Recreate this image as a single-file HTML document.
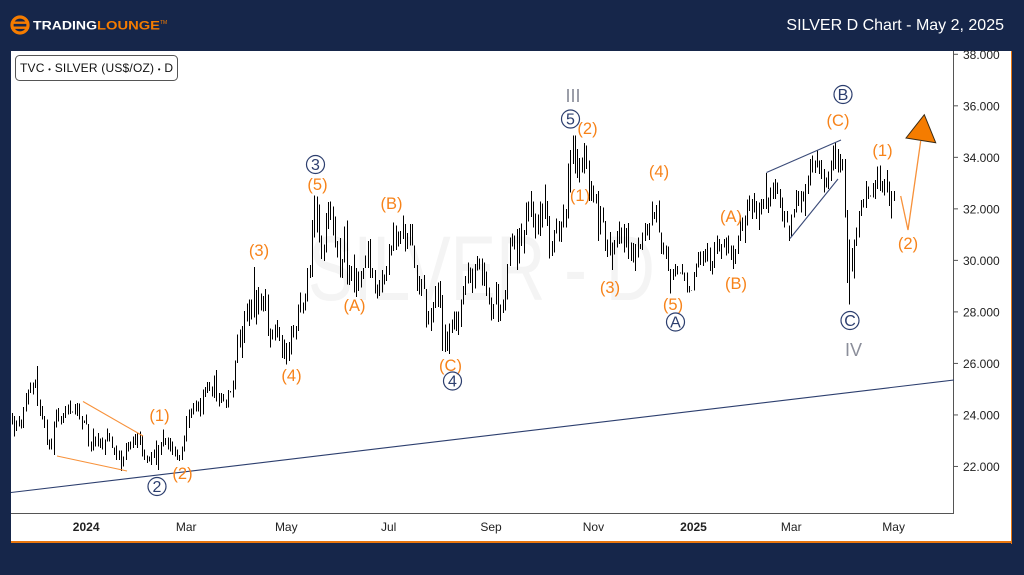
<!DOCTYPE html>
<html lang="en">
<head>
<meta charset="utf-8">
<title>SILVER D Chart - May 2, 2025</title>
<style>
html,body{margin:0;padding:0;width:1024px;height:575px;overflow:hidden;background:#16264a}
svg{display:block}
text{font-family:"Liberation Sans",sans-serif}
.w{fill:#f7831a;font-size:16.5px;text-anchor:middle}
.c{fill:#2c3e6e;font-size:16px;text-anchor:middle}
.r{fill:none;stroke:#2c3e6e;stroke-width:1.2}
.n{fill:#8b8e9a;font-size:18px;text-anchor:middle}
.ax{fill:#222;font-size:12px}
</style>
</head>
<body>
<svg id="chart" width="1024" height="575" viewBox="0 0 1024 575" xmlns="http://www.w3.org/2000/svg">
<rect x="0" y="0" width="1024" height="575" fill="#16264a"/>
<rect x="11" y="51" width="1001" height="491" fill="#ffffff"/>
<rect x="1011" y="51" width="1" height="493" fill="#e8760f"/>
<rect x="11" y="541" width="1001" height="2" fill="#e8760f"/>

<g>
<circle cx="20" cy="25" r="8" fill="none" stroke="#f57c00" stroke-width="3.2"/>
<rect x="11" y="21.5" width="18" height="2.4" fill="#f57c00"/>
<rect x="11" y="26.5" width="18" height="2.4" fill="#f57c00"/>
<text x="33" y="29.5" font-size="11.5" font-weight="bold" fill="#ffffff" textLength="64" lengthAdjust="spacingAndGlyphs">TRADING</text>
<text x="97" y="29.5" font-size="11.5" font-weight="bold" fill="#f57c00" textLength="63" lengthAdjust="spacingAndGlyphs">LOUNGE</text>
<text x="160" y="24" font-size="5" fill="#f57c00">TM</text>
</g>
<text x="1004" y="30" font-size="16" fill="#ffffff" text-anchor="end">SILVER D Chart - May 2, 2025</text>

<text x="308" y="300" font-size="92" fill="#f4f4f4" textLength="347" lengthAdjust="spacingAndGlyphs">SILVER - D</text>

<g id="axes">
<line x1="953.5" y1="51" x2="953.5" y2="514" stroke="#555" stroke-width="1"/>
<line x1="11" y1="513.5" x2="954" y2="513.5" stroke="#555" stroke-width="1"/>
</g>

<g id="bars"></g>

<line x1="11" y1="492.5" x2="954" y2="380" stroke="#2c3e6e" stroke-width="1.1"/>
<line x1="83" y1="401.5" x2="143" y2="436" stroke="#f7913a" stroke-width="1.1"/>
<line x1="57" y1="456" x2="127" y2="471" stroke="#f7913a" stroke-width="1.1"/>
<line x1="766.5" y1="172.5" x2="841" y2="140" stroke="#3a4a78" stroke-width="1.1"/>
<line x1="790" y1="238.5" x2="838" y2="179" stroke="#3a4a78" stroke-width="1.1"/>
<polyline points="900.7,196 908,230 920.7,141" fill="none" stroke="#f7913a" stroke-width="1.3"/>
<polygon points="906,138 924.3,114.7 935.7,142.7" fill="#f57c00" stroke="#3a2a14" stroke-width="1"/>

<g>
<rect x="15.5" y="55.5" width="162" height="25" rx="4" fill="#ffffff" stroke="#555"/>
<text x="20" y="72" font-size="12" fill="#111" textLength="153" lengthAdjust="spacing">TVC <tspan font-size="8">•</tspan> SILVER (US$/OZ) <tspan font-size="8">•</tspan> D</text>
</g>

<g>
<text class="w" x="159.5" y="421">(1)</text>
<text class="w" x="182.5" y="479">(2)</text>
<text class="w" x="259" y="256">(3)</text>
<text class="w" x="291.5" y="381">(4)</text>
<text class="w" x="317.5" y="190">(5)</text>
<text class="w" x="354.5" y="311">(A)</text>
<text class="w" x="391.5" y="209">(B)</text>
<text class="w" x="450.5" y="371">(C)</text>
<text class="w" x="587.5" y="134">(2)</text>
<text class="w" x="580" y="201">(1)</text>
<text class="w" x="610" y="293">(3)</text>
<text class="w" x="659" y="177">(4)</text>
<text class="w" x="673" y="310">(5)</text>
<text class="w" x="731" y="222">(A)</text>
<text class="w" x="736" y="289">(B)</text>
<text class="w" x="838" y="126">(C)</text>
<text class="w" x="882.5" y="156">(1)</text>
<text class="w" x="908" y="249">(2)</text>
</g>

<g>
<g><circle class="r" cx="157" cy="486.5" r="9"/><text class="c" x="157" y="492">2</text></g>
<g><circle class="r" cx="315.5" cy="164.5" r="9"/><text class="c" x="315.5" y="170">3</text></g>
<g><circle class="r" cx="452.5" cy="381" r="9"/><text class="c" x="452.5" y="386.5">4</text></g>
<g><circle class="r" cx="570.5" cy="119" r="9"/><text class="c" x="570.5" y="124.5">5</text></g>
<g><circle class="r" cx="675.5" cy="322" r="9"/><text class="c" x="675.5" y="327.5">A</text></g>
<g><circle class="r" cx="843" cy="94.5" r="9"/><text class="c" x="843" y="100">B</text></g>
<g><circle class="r" cx="850" cy="320.5" r="9"/><text class="c" x="850" y="326">C</text></g>
</g>

<text class="n" x="573" y="102">III</text>
<text class="n" x="853.5" y="356">IV</text>
</svg>

<script>
const highs = [
24.08,23.95,23.78,23.95,23.82,24.30,24.86,24.99,25.25,25.25,25.38,25.90,24.60,24.34,23.95,23.82,23.04,23.08,23.75,24.21,
24.27,23.95,24.08,24.34,24.40,24.56,24.14,24.43,24.47,24.44,23.95,23.78,24.01,23.65,22.97,23.47,23.17,23.30,23.08,23.13,
23.04,23.47,23.30,23.17,22.74,22.82,22.61,22.62,22.39,22.91,22.95,22.97,23.17,23.26,23.30,23.36,23.23,22.65,22.43,22.39,
22.56,22.65,23.00,22.84,22.95,23.43,23.10,23.13,23.10,22.97,22.78,22.65,22.45,22.78,23.21,23.95,24.21,24.25,24.47,24.56,24.53,
24.66,24.98,25.09,25.27,25.27,25.11,25.54,25.74,24.85,24.85,24.81,24.59,24.96,24.92,25.33,26.12,27.13,27.32,27.45,28.03,
28.32,28.49,28.49,29.75,28.85,28.97,28.71,28.61,28.88,28.68,27.36,27.32,27.52,27.68,27.41,27.10,26.93,26.80,26.83,27.45,
27.49,27.45,28.29,28.75,28.36,28.71,29.70,29.83,31.57,32.52,32.48,32.16,30.96,30.61,31.83,32.26,
32.28,32.09,31.70,30.76,30.87,30.05,31.31,31.54,29.83,29.79,30.22,29.70,29.57,29.59,29.70,30.18,30.76,30.83,29.70,29.63,
29.07,29.23,29.62,29.46,29.79,30.63,30.57,31.48,31.35,31.12,31.15,31.74,31.41,31.06,31.41,31.41,30.57,29.83,29.40,29.27,
29.44,28.88,28.03,28.16,28.38,29.01,29.14,29.20,28.66,27.52,27.23,27.54,27.71,28.01,28.01,28.01,28.49,29.01,29.40,29.92,
29.72,29.68,29.85,30.17,30.07,30.07,29.91,29.56,28.94,28.55,28.31,29.17,29.09,28.29,28.48,28.85,29.85,30.88,31.05,30.97,
31.21,31.25,31.43,31.18,32.25,32.29,32.70,32.29,31.82,31.79,32.29,32.21,32.94,32.31,31.73,30.75,31.17,31.62,31.53,31.51,
32.16,31.99,33.77,34.29,34.85,34.85,34.33,33.98,34.00,34.55,34.46,33.87,33.09,32.90,32.57,32.70,32.12,32.05,31.53,30.82,
31.11,30.70,30.80,31.15,31.50,31.28,31.41,31.26,31.45,30.70,30.67,30.63,30.89,30.63,31.09,31.45,31.41,31.45,32.28,31.87,
32.15,32.32,31.09,30.70,30.57,30.53,29.66,29.66,29.85,29.79,29.53,29.85,29.53,29.53,29.01,28.85,29.55,29.88,30.33,30.35,
30.37,30.44,30.67,30.50,29.98,30.72,30.96,30.83,30.63,30.83,30.89,30.96,30.57,30.57,30.44,30.96,31.74,31.67,31.74,32.36,
32.51,32.38,32.61,32.31,32.25,32.38,32.38,33.39,32.44,32.83,33.03,33.16,33.03,32.77,32.44,31.92,31.92,31.36,31.79,31.99,
32.73,32.70,32.70,32.68,32.96,33.29,33.94,34.07,33.87,34.26,33.87,33.90,33.55,33.22,33.46,33.87,34.46,34.59,34.33,34.13,
33.94,33.94,31.96,30.82,30.49,30.82,31.27,31.92,32.34,32.38,33.09,32.86,32.51,33.00,33.13,33.64,33.68,33.09,33.16,33.51,
33.07,32.70,32.70
];
const lows = [
23.62,23.17,23.37,23.56,23.47,23.49,24.14,24.40,24.86,24.79,25.05,24.34,23.95,23.82,23.49,22.84,22.65,22.65,22.45,23.52,
23.75,23.62,23.69,23.88,24.01,24.04,24.09,24.01,23.95,23.82,23.43,23.69,23.62,22.78,22.58,22.61,22.78,22.78,22.71,22.65,
22.45,22.97,22.97,22.71,22.45,22.26,22.26,21.83,22.00,22.26,22.58,22.65,22.71,22.84,22.71,22.84,22.39,22.26,22.13,22.19,
22.06,22.32,22.06,21.87,22.45,22.78,22.84,22.65,22.58,22.45,22.39,22.26,22.22,22.26,22.58,22.97,23.49,23.88,24.01,24.14,24.14,
23.94,24.01,24.70,24.85,24.92,24.72,24.66,24.53,24.33,24.46,24.53,24.27,24.29,24.88,24.68,24.98,26.02,26.61,26.22,26.80,
27.62,27.45,27.71,27.78,27.52,27.90,28.06,28.01,28.03,27.06,26.61,26.93,26.89,27.00,26.87,26.22,26.18,25.96,26.09,26.35,
27.00,26.93,27.26,27.97,27.94,28.06,28.40,29.31,29.36,30.89,31.09,30.70,30.05,29.98,30.31,31.22,
31.57,30.96,30.50,30.11,29.33,29.31,29.92,29.07,29.05,29.20,28.75,28.58,28.81,28.94,29.27,29.70,29.70,29.31,29.31,28.71,
28.52,28.62,28.75,29.07,29.20,29.44,30.18,30.37,30.40,30.53,30.63,30.83,30.35,30.44,30.57,30.57,29.70,28.81,28.68,28.62,
28.88,27.39,27.52,27.26,27.58,28.16,28.19,28.16,26.48,26.44,26.48,26.37,27.19,27.32,27.26,27.10,27.41,28.29,28.66,29.10,
29.13,28.74,28.91,29.61,29.65,29.03,29.00,28.61,28.29,27.66,27.73,28.29,27.61,27.64,27.96,28.05,28.48,29.78,30.53,30.43,
29.62,29.88,30.56,30.27,30.99,31.51,31.69,31.27,30.85,31.01,30.95,31.27,31.60,31.34,30.07,30.17,30.30,31.04,30.73,30.72,
31.27,31.27,31.62,32.64,33.74,33.38,33.20,33.03,33.42,33.38,33.55,32.31,32.31,32.25,32.21,30.75,31.01,31.47,30.37,30.14,
30.18,29.63,30.22,30.50,30.63,30.66,30.31,30.50,30.05,29.98,29.92,29.59,30.11,30.44,30.40,30.76,30.96,30.79,31.35,31.61,
31.48,31.09,30.24,30.22,30.05,29.59,28.71,29.23,29.37,29.46,29.49,29.46,29.20,28.75,28.75,28.83,28.84,29.36,29.72,29.83,
29.79,29.92,29.96,29.59,29.46,29.70,30.24,30.35,30.05,30.50,30.18,30.27,30.01,29.66,29.85,30.24,30.76,31.15,30.67,31.35,
31.92,31.60,31.86,31.60,31.18,31.79,31.99,31.99,31.83,32.09,32.38,32.38,32.57,32.03,31.51,31.27,31.47,30.75,30.95,31.66,
31.86,32.12,31.86,32.29,31.73,32.57,32.90,33.42,33.39,33.61,33.35,33.16,32.64,32.83,32.77,33.09,33.48,33.55,33.42,33.42,
33.48,31.66,29.13,28.29,29.56,29.29,30.56,30.88,31.73,32.05,32.03,32.38,32.48,32.44,32.38,32.77,32.70,32.64,32.51,32.64,
32.12,31.62,32.31
];
const priceTicks = [38,36,34,32,30,28,26,24,22];
const timeLabels = ["2024","Mar","May","Jul","Sep","Nov","2025","Mar","May"];
const timeBarIndex = [32,75,118,162,206,250,293,335,379];
const timeLabelBold = [true,false,false,false,false,false,true,false,false];

const NS = "http://www.w3.org/2000/svg";
function xScale(i){ return 11.7 + i * 2.327; }
function yScale(p){ return 54.3 + (38 - p) * 25.76; }

const barsGroup = document.getElementById("bars");
highs.forEach(function(h, i){
  const bar = document.createElementNS(NS, "line");
  
  
  const x = Math.round(xScale(i)) + 0.5;
  bar.setAttribute("x1", x);
  bar.setAttribute("x2", x);
  bar.setAttribute("y1", yScale(h).toFixed(1));
  bar.setAttribute("y2", yScale(lows[i]).toFixed(1));
  bar.setAttribute("stroke", "#000");
  bar.setAttribute("stroke-width", "1");
  bar.setAttribute("shape-rendering", "crispEdges");
  barsGroup.appendChild(bar);
});

const axes = document.getElementById("axes");
priceTicks.forEach(function(p){
  const y = yScale(p);
  const tick = document.createElementNS(NS, "line");
  
  
  tick.setAttribute("x1", 954);
  tick.setAttribute("x2", 958);
  tick.setAttribute("y1", y);
  tick.setAttribute("y2", y);
  tick.setAttribute("stroke", "#555");
  axes.appendChild(tick);
  const label = document.createElementNS(NS, "text");
  
  
  label.setAttribute("class", "ax");
  label.setAttribute("x", 963);
  label.setAttribute("y", y + 4.5);
  label.textContent = p.toFixed(3);
  axes.appendChild(label);
});
timeLabels.forEach(function(t, k){
  const label = document.createElementNS(NS, "text");
  
  
  label.setAttribute("class", "ax");
  label.setAttribute("x", xScale(timeBarIndex[k]));
  label.setAttribute("y", 531);
  label.setAttribute("text-anchor", "middle");
  if (timeLabelBold[k]) { label.setAttribute("font-weight", "bold"); }
  label.textContent = t;
  axes.appendChild(label);
});
</script>
</body>
</html>
